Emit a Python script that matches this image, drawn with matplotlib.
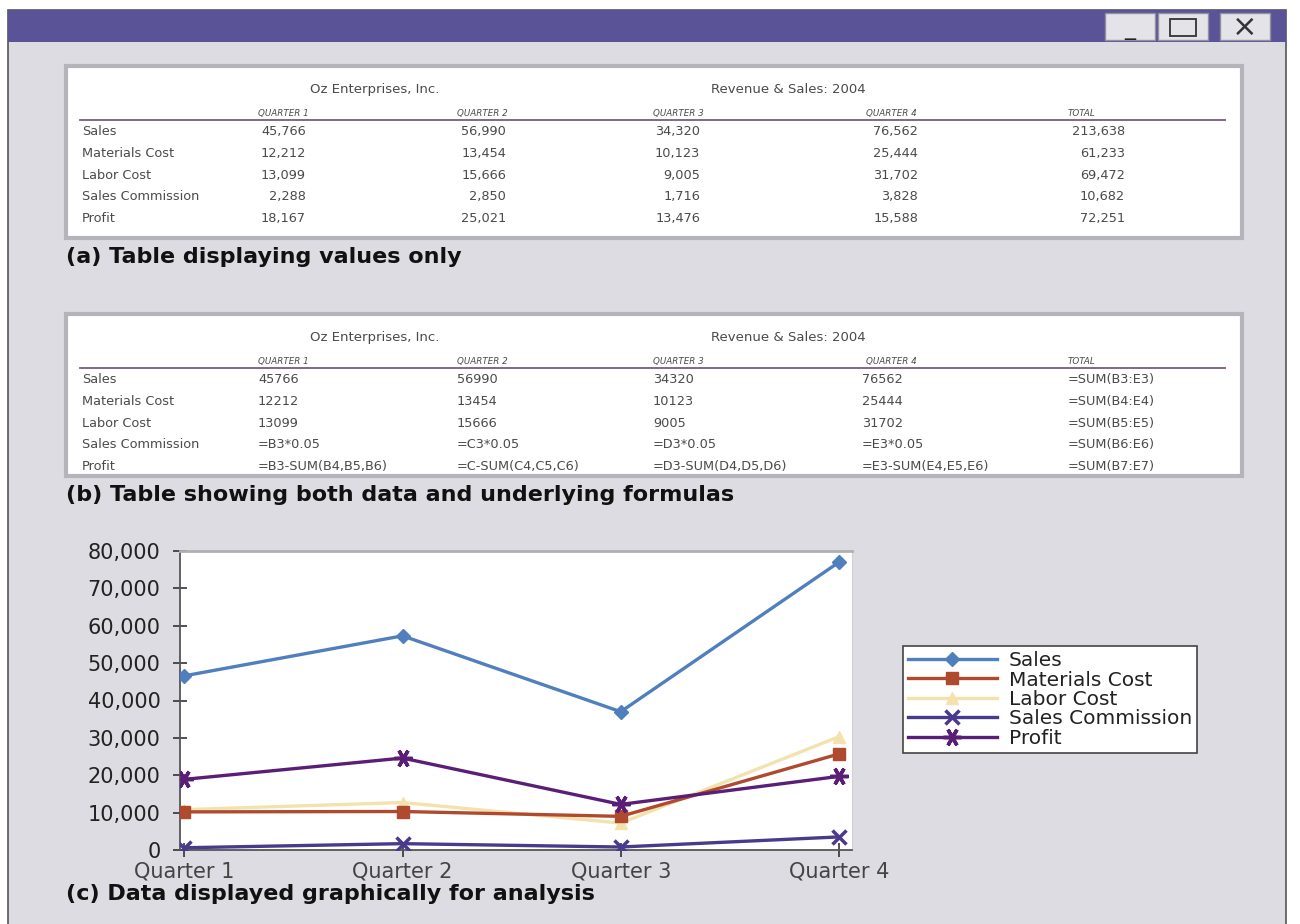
import matplotlib
matplotlib.use('Agg')
import matplotlib.pyplot as plt
from matplotlib.patches import Rectangle

# table data (a)
row_names = ['Sales', 'Materials Cost', 'Labor Cost', 'Sales Commission', 'Profit']
col_heads = ['QUARTER 1', 'QUARTER 2', 'QUARTER 3', 'QUARTER 4', 'TOTAL']
q1_vals = ['45,766', '12,212', '13,099', '2,288', '18,167']
q2_vals = ['56,990', '13,454', '15,666', '2,850', '25,021']
q3_vals = ['34,320', '10,123', '9,005', '1,716', '13,476']
q4_vals = ['76,562', '25,444', '31,702', '3,828', '15,588']
tot_vals = ['213,638', '61,233', '69,472', '10,682', '72,251']

# table data (b)
q1_form = ['45766', '12212', '13099', '=B3*0.05', '=B3-SUM(B4,B5,B6)']
q2_form = ['56990', '13454', '15666', '=C3*0.05', '=C-SUM(C4,C5,C6)']
q3_form = ['34320', '10123', '9005', '=D3*0.05', '=D3-SUM(D4,D5,D6)']
q4_form = ['76562', '25444', '31702', '=E3*0.05', '=E3-SUM(E4,E5,E6)']
tot_form = ['=SUM(B3:E3)', '=SUM(B4:E4)', '=SUM(B5:E5)', '=SUM(B6:E6)', '=SUM(B7:E7)']

# chart data (as plotted)
quarters = ['Quarter 1', 'Quarter 2', 'Quarter 3', 'Quarter 4']
sales = [46600, 57300, 37000, 77000]
materials = [10200, 10300, 9000, 25700]
labor = [10800, 12700, 7200, 30300]
commission = [600, 1700, 800, 3500]
profit = [18900, 24600, 12200, 19700]

W, H = 1300, 924
fig = plt.figure(figsize=(W / 100, H / 100), dpi=100)
fig.patch.set_facecolor('white')

bg = fig.add_axes([0, 0, 1, 1])
bg.set_xlim(0, W)
bg.set_ylim(H, 0)
bg.axis('off')

# window frame, title bar and buttons
bg.add_patch(Rectangle((8, 10), 1278, 920, facecolor='#dcdce2', edgecolor='#555555', lw=1.2))
bg.add_patch(Rectangle((8, 10), 1278, 32, facecolor='#5b5397', edgecolor='none'))
for x0 in [1105, 1158, 1220]:
    bg.add_patch(Rectangle((x0, 13), 50, 27, facecolor='#e4e4e8', edgecolor='#9090a0', lw=1))
bg.text(1130, 30, '_', ha='center', va='center', fontsize=16, color='#222222')
bg.add_patch(Rectangle((1170, 19), 26, 17, facecolor='none', edgecolor='#333333', lw=1.3))
bg.text(1245, 27, '×', ha='center', va='center', fontsize=22, color='#333333')

txt_col = '#4a4a4a'
fam = 'DejaVu Sans'


def draw_table(top, height, cols, aligns, xs):
    bg.add_patch(Rectangle((66, top), 1176, height,
                           facecolor='white', edgecolor='#b4b4ba', lw=3))
    bg.text(375, top + 27, 'Oz Enterprises, Inc.', ha='center', va='baseline',
            fontsize=9.5, color=txt_col, family=fam)
    bg.text(788, top + 27, 'Revenue & Sales: 2004', ha='center', va='baseline',
            fontsize=9.5, color=txt_col, family=fam)
    hy = top + 50
    for x, h in zip([258, 457, 653, 866, 1068], col_heads):
        bg.text(x, hy, h, ha='left', va='baseline', fontsize=6.3, style='italic',
                color=txt_col, family=fam)
    bg.plot([80, 1225], [hy + 4, hy + 4], color='#7a5a7a', lw=1.3)
    ry = hy + 19
    for i, name in enumerate(row_names):
        y = ry + i * 21.8
        bg.text(82, y, name, ha='left', va='baseline', fontsize=9.3,
                color=txt_col, family=fam)
        for vals, x, al in zip(cols, xs, aligns):
            bg.text(x, y, vals[i], ha=al, va='baseline', fontsize=9.3,
                    color=txt_col, family=fam)


draw_table(66, 172, [q1_vals, q2_vals, q3_vals, q4_vals, tot_vals],
           ['right'] * 5, [306, 506, 700, 918, 1125])
draw_table(314, 162, [q1_form, q2_form, q3_form, q4_form, tot_form],
           ['left'] * 5, [258, 457, 653, 862, 1068])

cap_kw = dict(ha='left', va='baseline', fontsize=16, fontweight='bold',
              color='#111111', family='DejaVu Sans')
bg.text(66, 263, '(a) Table displaying values only', **cap_kw)
bg.text(66, 501, '(b) Table showing both data and underlying formulas', **cap_kw)
bg.text(66, 900, '(c) Data displayed graphically for analysis', **cap_kw)

# chart
ax = fig.add_axes([180 / W, (H - 850) / H, 672 / W, 299 / H])
ax.set_facecolor('white')
xs = range(len(quarters))
ax.plot(xs, sales, color='#4f7fbd', marker='D', ms=7, lw=2.4, label='Sales', zorder=5)
ax.plot(xs, materials, color='#b04a2e', marker='s', ms=8, lw=2.4, label='Materials Cost', zorder=3)
ax.plot(xs, labor, color='#f3e2ae', marker='^', ms=8, lw=2.4, label='Labor Cost', zorder=2)
ax.plot(xs, commission, color='#4a3a8c', marker='x', ms=10, mew=2.5, lw=2.4,
        label='Sales Commission', zorder=4)
ax.plot(xs, profit, color='#5a1e76', marker=(6, 2, 90), ms=13, mew=2.5, lw=2.4,
        label='Profit', zorder=4)

ax.set_xlim(-0.02, 3.06)
ax.set_ylim(0, 80000)
ax.set_yticks(range(0, 80001, 10000))
ax.set_yticklabels([f'{v:,}' for v in range(0, 80001, 10000)])
ax.set_xticks(list(xs))
ax.set_xticklabels(quarters)
ax.tick_params(axis='both', labelsize=15, colors='#333333', direction='inout',
               length=10, width=1.2)
ax.tick_params(axis='x', labelcolor='#444444', pad=3)
ax.tick_params(axis='y', labelcolor='#222222', pad=9)
for lab in ax.get_xticklabels() + ax.get_yticklabels():
    lab.set_family('DejaVu Sans')
ax.spines['left'].set_color('#555555')
ax.spines['bottom'].set_color('#555555')
ax.spines['left'].set_linewidth(1.3)
ax.spines['bottom'].set_linewidth(1.3)
ax.spines['top'].set_color('#b0b0b0')
ax.spines['right'].set_color('#d0d0d0')
ax.spines['top'].set_linewidth(2)

leg = ax.legend(loc='upper left', bbox_to_anchor=(893 / W, (H - 636) / H),
                bbox_transform=fig.transFigure, frameon=True, fancybox=False,
                edgecolor='#444444', handlelength=4.4,
                labelspacing=0.02, borderpad=0.25, handletextpad=0.6,
                prop={'family': 'DejaVu Sans', 'size': 14.5})
leg.get_frame().set_linewidth(1.2)
leg.get_frame().set_facecolor('white')
leg.get_frame().set_alpha(1)
for t in leg.get_texts():
    t.set_color('#222222')

fig.savefig('out.png', dpi=100, facecolor='white')
